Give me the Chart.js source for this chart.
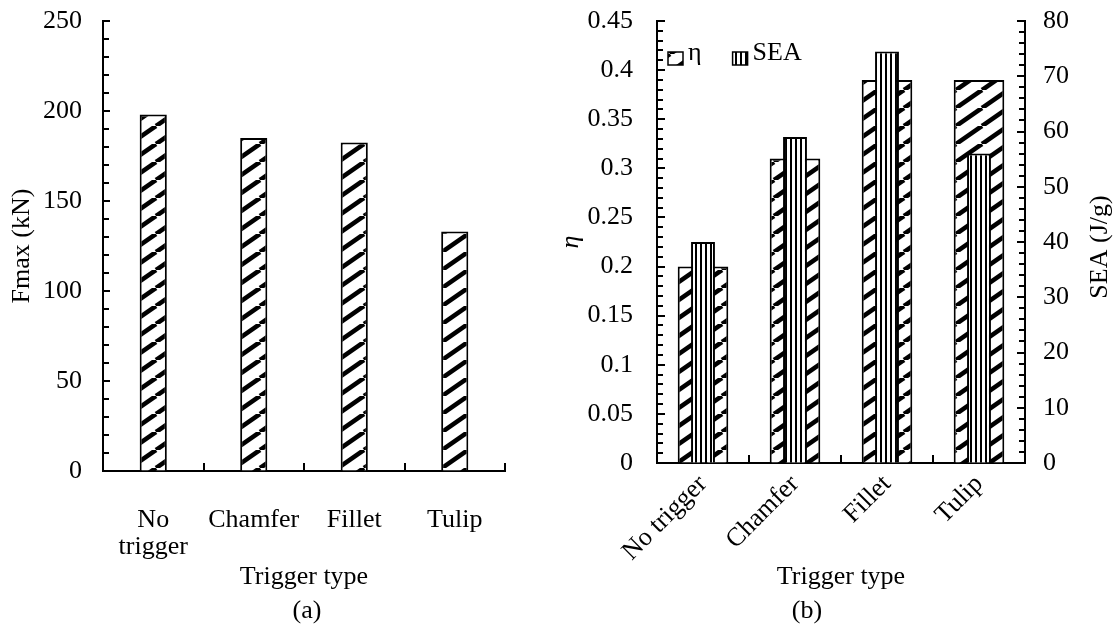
<!DOCTYPE html>
<html>
<head>
<meta charset="utf-8">
<script src="https://cdn.jsdelivr.net/npm/chart.js@4.4.1/dist/chart.umd.min.js"></script>
<style>
  html, body { margin: 0; padding: 0; background: #fff; }
  body { width: 1118px; height: 634px; position: relative; overflow: hidden;
         font-family: 'Liberation Serif', 'Times New Roman', serif; }
  .panel { position: absolute; top: 0; }
  #panelA { left: 0; }
  #panelB { left: 540px; }
  .caption { position: absolute; top: 595px; font-size: 26px; line-height: 30px;
             transform: translateX(-50%); color: #000; }
</style>
</head>
<body>
<div class="panel" id="panelA"><canvas id="chartA" width="540" height="634"></canvas></div>
<div class="panel" id="panelB"><canvas id="chartB" width="578" height="634"></canvas></div>
<div class="caption" style="left:307px">(a)</div>
<div class="caption" style="left:807px">(b)</div>
<script>
// trigger types and measured values
const triggerTypes = ['No trigger', 'Chamfer', 'Fillet', 'Tulip'];
const fmaxKN = [198, 185, 182.5, 133];
const etaValues = [0.2, 0.31, 0.39, 0.39];
const seaValues = [40, 59, 74.5, 56];

// axis ranges
const fmaxRange = [0, 250];
const etaRange = [0, 0.45];
const seaRange = [0, 80];

const FONT = "'Liberation Serif', 'Times New Roman', serif";
Chart.defaults.font.family = FONT;
Chart.defaults.font.size = 26;
Chart.defaults.color = '#000';

// "/" hatch like the spreadsheet wide upward diagonal fill
function hatchPattern() {
  const w = 26, h = 18;
  const c = document.createElement('canvas');
  c.width = w; c.height = h;
  const g = c.getContext('2d');
  g.fillStyle = '#fff';
  g.fillRect(0, 0, w, h);
  g.strokeStyle = '#000';
  g.lineWidth = 4.6;
  for (const dx of [-w, 0, w]) {
    g.beginPath();
    g.moveTo(dx, h);
    g.lineTo(dx + w, 0);
    g.stroke();
  }
  return g.createPattern(c, 'repeat');
}

// thin vertical stripes
function stripePattern() {
  const c = document.createElement('canvas');
  c.width = 5; c.height = 5;
  const g = c.getContext('2d');
  g.fillStyle = '#fff';
  g.fillRect(0, 0, 5, 5);
  g.fillStyle = '#000';
  g.fillRect(0, 0, 2, 5);
  return g.createPattern(c, 'repeat');
}

const hatch = hatchPattern();
const stripes = stripePattern();

// tick marks drawn inward from the axis lines, with minor ticks
function innerTicks(spec) {
  return {
    id: 'innerTicks',
    afterDatasetsDraw(chart) {
      const ctx = chart.ctx, area = chart.chartArea;
      ctx.save();
      ctx.strokeStyle = '#000';
      ctx.lineWidth = 2;
      spec.forEach(s => {
        const sc = chart.scales[s.id];
        if (s.minor) {
          const x0 = s.side === 'right' ? area.right : area.left;
          const dir = s.side === 'right' ? -1 : 1;
          const n = Math.round((sc.max - sc.min) / s.minor);
          const every = Math.round(s.major / s.minor);
          for (let i = 0; i <= n; i++) {
            const y = Math.round(sc.getPixelForValue(sc.min + i * s.minor));
            const len = i % every === 0 ? s.majorLen : s.minorLen;
            ctx.beginPath();
            ctx.moveTo(x0, y);
            ctx.lineTo(x0 + dir * len, y);
            ctx.stroke();
          }
        } else {
          const n = sc.ticks.length;
          for (let i = 1; i <= n; i++) {
            const x = Math.round(i < n
              ? (sc.getPixelForTick(i - 1) + sc.getPixelForTick(i)) / 2
              : area.right);
            ctx.beginPath();
            ctx.moveTo(x, area.bottom);
            ctx.lineTo(x, area.bottom - s.len);
            ctx.stroke();
          }
        }
      });
      ctx.restore();
    }
  };
}

const axisLine = { color: '#000', width: 2 };
const noGrid = { display: true, drawOnChartArea: false, drawTicks: false };
// value axes: invisible outer ticks give the gap between axis and labels
const gapGrid = len => ({ display: true, drawOnChartArea: false, drawTicks: true,
                          tickLength: len, tickColor: 'rgba(0,0,0,0)' });

// (a) peak force
new Chart(document.getElementById('chartA'), {
  type: 'bar',
  data: {
    labels: triggerTypes,
    datasets: [{
      label: 'Fmax',
      data: fmaxKN,
      backgroundColor: hatch,
      borderColor: '#000',
      borderWidth: 2,
      barPercentage: 0.27,
      categoryPercentage: 1
    }]
  },
  options: {
    responsive: false,
    animation: false,
    layout: { padding: { left: 7, top: 21, right: 35, bottom: 41 } },
    plugins: { legend: { display: false }, tooltip: { enabled: false } },
    scales: {
      x: {
        offset: true,
        grid: noGrid,
        border: axisLine,
        ticks: {
          autoSkip: false, maxRotation: 0, padding: 36,
          font: { size: 26, lineHeight: 1.02 },
          callback: (v, i) => triggerTypes[i].includes(' ') ? triggerTypes[i].split(' ') : triggerTypes[i]
        },
        title: { display: true, text: 'Trigger type', padding: 0, font: { size: 26 } },
        afterFit: s => { s.height = 122; }
      },
      y: {
        min: fmaxRange[0], max: fmaxRange[1],
        grid: gapGrid(19),
        border: axisLine,
        ticks: { stepSize: 50, padding: 2 },
        title: { display: true, text: 'Fmax (kN)', padding: 0, font: { size: 26 } },
        afterFit: s => { s.width = 96; }
      }
    }
  },
  plugins: [innerTicks([
    { id: 'y', side: 'left', major: 50, minor: 10, majorLen: 7, minorLen: 6 },
    { id: 'x', len: 8 }
  ])]
});

// in-plot legend for panel (b)
const boxLegend = {
  id: 'boxLegend',
  afterDraw(chart) {
    const ctx = chart.ctx, area = chart.chartArea;
    ctx.save();
    ctx.font = '26px ' + FONT;
    ctx.textBaseline = 'alphabetic';
    let x = area.left + 11;
    const top = area.top + 31;
    chart.data.datasets.forEach(ds => {
      ctx.fillStyle = ds.backgroundColor;
      ctx.fillRect(x, top, 15, 13);
      ctx.strokeStyle = '#000';
      ctx.lineWidth = 1.5;
      ctx.strokeRect(x, top, 15, 13);
      ctx.fillStyle = '#000';
      ctx.fillText(ds.label, x + 20, top + 8);
      x += 20 + ctx.measureText(ds.label).width + 31;
    });
    ctx.restore();
  }
};

// right axis title reads bottom-to-top
const rightTitle = {
  id: 'rightTitle',
  afterDraw(chart) {
    const ctx = chart.ctx, sc = chart.scales.y1, area = chart.chartArea;
    ctx.save();
    ctx.translate(sc.right - 15, (area.top + area.bottom) / 2 + 5);
    ctx.rotate(-Math.PI / 2);
    ctx.font = '26px ' + FONT;
    ctx.fillStyle = '#000';
    ctx.textAlign = 'center';
    ctx.textBaseline = 'middle';
    ctx.fillText('SEA (J/g)', 0, 0);
    ctx.restore();
  }
};

// (b) crush force efficiency and specific energy absorption
new Chart(document.getElementById('chartB'), {
  type: 'bar',
  data: {
    labels: triggerTypes,
    datasets: [{
      label: 'η',
      data: etaValues,
      yAxisID: 'y',
      backgroundColor: hatch,
      borderColor: '#000',
      borderWidth: 2,
      barPercentage: 0.55,
      categoryPercentage: 1,
      grouped: false,
      order: 2
    }, {
      label: 'SEA',
      data: seaValues,
      yAxisID: 'y1',
      backgroundColor: stripes,
      borderColor: '#000',
      borderWidth: 2,
      barPercentage: 0.26,
      categoryPercentage: 1,
      grouped: false,
      order: 1
    }]
  },
  options: {
    responsive: false,
    animation: false,
    layout: { padding: { left: 16, top: 21, right: 3, bottom: 41 } },
    plugins: { legend: { display: false }, tooltip: { enabled: false } },
    scales: {
      x: {
        offset: true,
        grid: noGrid,
        border: axisLine,
        ticks: { autoSkip: false, minRotation: 45, maxRotation: 45, padding: 6 },
        title: { display: true, text: 'Trigger type', padding: 0, font: { size: 26 } },
        afterFit: s => { s.height = 130; }
      },
      y: {
        position: 'left',
        min: etaRange[0], max: etaRange[1],
        grid: gapGrid(22),
        border: axisLine,
        ticks: { stepSize: 0.05, padding: 2, callback: v => String(+v.toFixed(2)) },
        title: { display: true, text: 'η', padding: 0, font: { size: 26, style: 'italic' } },
        afterFit: s => { s.width = 101; }
      },
      y1: {
        position: 'right',
        min: seaRange[0], max: seaRange[1],
        grid: gapGrid(16),
        border: axisLine,
        ticks: { stepSize: 10, padding: 2 },
        afterFit: s => { s.width = 90; }
      }
    }
  },
  plugins: [innerTicks([
    { id: 'y', side: 'left', major: 0.05, minor: 0.01, majorLen: 8, minorLen: 6 },
    { id: 'y1', side: 'right', major: 10, minor: 2, majorLen: 8, minorLen: 6 },
    { id: 'x', len: 8 }
  ]), boxLegend, rightTitle]
});
</script>
</body>
</html>
